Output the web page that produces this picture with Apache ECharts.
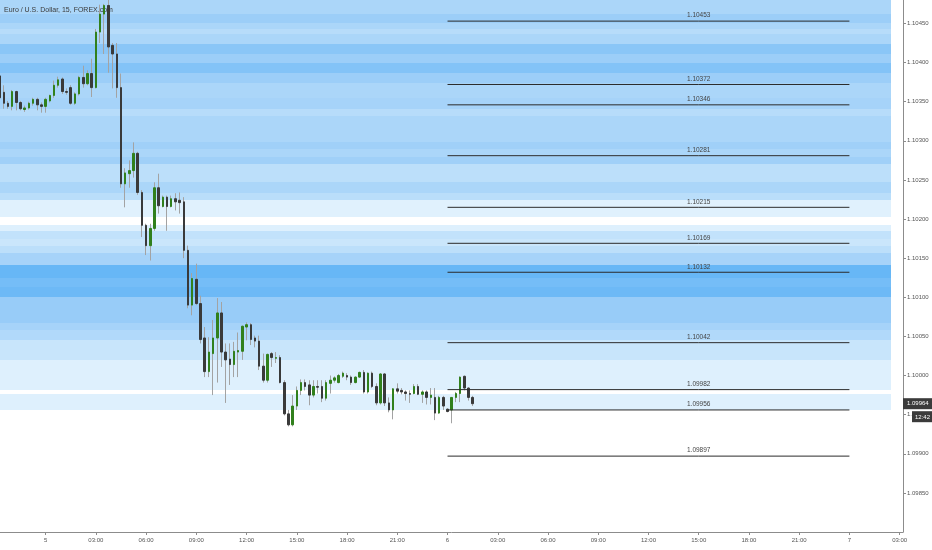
<!DOCTYPE html>
<html><head><meta charset="utf-8">
<script src="https://cdn.jsdelivr.net/npm/echarts@6/dist/echarts.min.js"></script>
<style>html,body{margin:0;padding:0;background:#fff}#c{width:932px;height:550px}</style>
</head><body><div id="c"></div>
<script>
const chartTitle = 'Euro / U.S. Dollar, 15, FOREX.com';
const firstSlot = -11;           // 15-minute slot index of the first candle (slot 0 = day 5 00:00)
const opens = [1.10383,1.10362,1.10348,1.10344,1.10363,1.10349,1.10340,1.10342,1.10348,1.10353,1.10346,
1.10344,1.10351,1.10358,1.10371,1.10379,1.10363,1.10368,1.10348,1.10360,1.10381,1.10373,1.10386,1.10368,1.10439,1.10462,1.10473,1.10422,1.10411,1.10368,1.10245,
1.10258,1.10262,1.10284,1.10234,1.10192,1.10166,1.10188,1.10240,1.10216,1.10228,1.10216,1.10226,1.10224,1.10222,1.10160,1.10090,1.10123,1.10092,1.10048,1.10005,
1.10028,1.10048,1.10080,1.10030,1.10021,1.10014,1.10030,1.10031,1.10062,1.10065,1.10048,1.10044,1.10012,1.09994,1.10028,1.10022,1.10023,1.09991,1.09951,1.09937,
1.09961,1.09981,1.09991,1.09988,1.09975,1.09986,1.09986,1.09971,1.09990,1.09994,1.09991,1.09999,1.10000,1.09998,1.09991,1.09998,1.10004,1.09979,1.10003,1.09986,
1.09965,1.10002,1.09965,1.09956,1.09983,1.09981,1.09979,1.09977,1.09977,1.09986,1.09976,1.09979,1.09972,1.09972,1.09952,1.09972,1.09957,1.09956,1.09972,1.09977,
1.09999,1.09984,1.09972];
const closes = [1.10355,1.10348,1.10344,1.10363,1.10349,1.10341,1.10342,1.10348,1.10353,1.10346,1.10344,
1.10353,1.10358,1.10371,1.10378,1.10363,1.10362,1.10348,1.10360,1.10381,1.10373,1.10386,1.10368,1.10439,1.10462,1.10473,1.10420,1.10411,1.10368,1.10245,1.10259,
1.10262,1.10284,1.10234,1.10192,1.10166,1.10188,1.10240,1.10217,1.10228,1.10216,1.10226,1.10222,1.10221,1.10160,1.10090,1.10124,1.10092,1.10046,1.10005,1.10030,
1.10048,1.10080,1.10030,1.10020,1.10014,1.10031,1.10032,1.10063,1.10065,1.10046,1.10044,1.10012,1.09994,1.10027,1.10023,1.10023,1.09991,1.09951,1.09937,1.09961,
1.09981,1.09991,1.09986,1.09975,1.09986,1.09985,1.09971,1.09991,1.09994,1.09997,1.10000,1.10003,1.09998,1.09991,1.09998,1.10004,1.09979,1.10003,1.09986,1.09965,
1.10002,1.09965,1.09956,1.09983,1.09980,1.09979,1.09977,1.09976,1.09986,1.09976,1.09979,1.09972,1.09975,1.09952,1.09972,1.09961,1.09954,1.09972,1.09977,1.09998,
1.09984,1.09972,1.09964];
const lows = [1.10351,1.10341,1.10341,1.10339,1.10339,1.10339,1.10337,1.10340,1.10345,1.10339,1.10336,
1.10336,1.10349,1.10355,1.10368,1.10360,1.10359,1.10346,1.10346,1.10358,1.10368,1.10371,1.10356,1.10367,1.10425,1.10411,1.10387,1.10367,1.10355,1.10240,1.10215,
1.10240,1.10253,1.10231,1.10177,1.10154,1.10147,1.10185,1.10207,1.10215,1.10185,1.10215,1.10211,1.10207,1.10150,1.10086,1.10077,1.10090,1.10041,1.09998,1.09998,
1.09975,1.09991,1.10011,1.09965,1.09988,1.09998,1.09998,1.10020,1.10045,1.10039,1.10036,1.10007,1.09991,1.09991,1.10011,1.10016,1.09990,1.09949,1.09935,1.09935,
1.09956,1.09975,1.09981,1.09962,1.09972,1.09977,1.09966,1.09968,1.09977,1.09991,1.09990,1.09997,1.09994,1.09988,1.09990,1.09997,1.09977,1.09977,1.09984,1.09962,
1.09963,1.09961,1.09953,1.09944,1.09977,1.09976,1.09968,1.09965,1.09976,1.09975,1.09965,1.09963,1.09963,1.09943,1.09951,1.09956,1.09953,1.09939,1.09966,1.09966,
1.09981,1.09968,1.09961];
const highs = [1.10387,1.10371,1.10351,1.10365,1.10364,1.10351,1.10345,1.10350,1.10355,1.10355,1.10349,
1.10355,1.10359,1.10377,1.10382,1.10381,1.10367,1.10371,1.10362,1.10383,1.10396,1.10390,1.10405,1.10443,1.10474,1.10475,1.10480,1.10425,1.10425,1.10386,1.10265,
1.10275,1.10298,1.10286,1.10237,1.10194,1.10194,1.10247,1.10258,1.10230,1.10230,1.10230,1.10233,1.10234,1.10228,1.10166,1.10131,1.10143,1.10102,1.10062,1.10049,
1.10071,1.10099,1.10094,1.10041,1.10041,1.10043,1.10055,1.10064,1.10068,1.10067,1.10051,1.10051,1.10028,1.10028,1.10030,1.10030,1.10026,1.09994,1.09956,1.09975,
1.09986,1.09995,1.09995,1.09994,1.09994,1.09994,1.09994,1.09994,1.10000,1.09999,1.10002,1.10005,1.10003,1.10000,1.09999,1.10005,1.10007,1.10004,1.10005,1.09990,
1.10003,1.10003,1.09972,1.09984,1.09990,1.09984,1.09981,1.09981,1.09989,1.09989,1.09981,1.09981,1.09984,1.09984,1.09974,1.09974,1.09958,1.09972,1.09979,1.09999,
1.10000,1.09985,1.09974];

const levels = [1.10453,1.10372,1.10346,1.10281,1.10215,1.10169,1.10132,1.10042,1.09982,1.09956,1.09897];
const levelStartSlot = 96, levelEndSlot = 192, levelLabelSlot = 156;

// price-band heat (profile) : edges from top to bottom, strength of each band (0 = empty)
const bandEdges = [1.10480,1.10462,1.10451,1.10443,1.10437,1.10424,1.10411,1.10400,1.10387,1.10374,1.10355,1.10341,1.10332,
1.10298,1.10290,1.10279,1.10271,1.10247,1.10233,1.10224,1.10202,1.10192,1.10185,1.10175,1.10166,1.10157,1.10141,1.10125,
1.10113,1.10100,1.10094,1.10067,1.10058,1.10045,1.10020,1.09981,1.09977,1.09956];
const bandStrength = [0.55,0.68,0.55,0.45,0.55,0.78,0.68,0.82,0.68,0.55,0.60,0.45,0.55,0.65,0.55,0.65,0.40,0.55,0.42,0.08,
0,0.10,0.35,0.28,0.40,0.60,0.98,0.90,0.95,0.70,0.70,0.60,0.50,0.30,0.10,0,0.10];
const bandEndSlot = 202;

const xTickLabels = ['5','03:00','06:00','09:00','12:00','15:00','18:00','21:00','6','03:00','06:00','09:00','12:00','15:00','18:00','21:00','7','03:00'];
const slotsPerTick = 12;
const yTicks = [1.0985,1.0990,1.0995,1.1000,1.1005,1.1010,1.1015,1.1020,1.1025,1.1030,1.1035,1.1040,1.1045];
const countdown = '12:42';

const xMin = -10.9, xMax = 204.8, yMin = 1.098, yMax = 1.1048;
const FONT = 'Liberation Sans, Arial, sans-serif';

const slots = opens.map((_, i) => firstSlot + i);
const wickData = opens.map((o, i) => [slots[i], o, closes[i], lows[i], highs[i]]);
const bodyData = opens.map((o, i) => [slots[i], o, closes[i], Math.min(o, closes[i]), Math.max(o, closes[i])]);
const bandData = [];
for (let i = 0; i < bandStrength.length; i++) {
  if (bandStrength[i] > 0) bandData.push([bandEdges[i + 1], bandEdges[i], bandStrength[i]]);
}
const bandColors = ['#e9f5fe', '#c4e3fb', '#9ecff8', '#64b5f6'];
const xTickValues = xTickLabels.map((_, i) => i * slotsPerTick);
const lastSlot = slots[slots.length - 1];
const lastClose = closes[closes.length - 1];

const chart = echarts.init(document.getElementById('c'));

const levelSeries = levels.map(v => ({
  type: 'line',
  data: [[levelStartSlot, v], {value: [levelLabelSlot, v], label: {show: true}}, [levelEndSlot, v]],
  symbol: 'circle', symbolSize: 0, showSymbol: true,
  lineStyle: {color: '#2b2b2b', width: 1},
  itemStyle: {color: '#2b2b2b'},
  label: {show: false, position: 'top', distance: 2, formatter: v.toFixed(5), fontSize: 6.5, color: '#444', fontFamily: FONT},
  silent: true, z: 5, animation: false, emphasis: {disabled: true}
}));

chart.setOption({
  animation: false,
  backgroundColor: '#ffffff',
  title: {text: chartTitle, left: 4, top: 7, padding: 0, z: 1,
    textStyle: {fontSize: 7, fontWeight: 'normal', color: '#3a3a3a', fontFamily: FONT}},
  grid: {left: 0, right: 29, top: 0, bottom: 18, containLabel: false},
  xAxis: {
    type: 'value', min: xMin, max: xMax,
    axisLine: {show: true, onZero: false, lineStyle: {color: '#8c8c8c', width: 1}},
    axisTick: {show: true, customValues: xTickValues, length: 3, lineStyle: {color: '#8c8c8c'}},
    axisLabel: {customValues: xTickValues, fontSize: 6, color: '#555', margin: 5, fontFamily: FONT,
      formatter: v => xTickLabels[Math.round(v / slotsPerTick)]},
    splitLine: {show: false}
  },
  yAxis: {
    type: 'value', position: 'right', min: yMin, max: yMax,
    axisLine: {show: true, onZero: false, lineStyle: {color: '#8c8c8c', width: 1}},
    axisTick: {show: true, customValues: yTicks, length: 3, lineStyle: {color: '#8c8c8c'}},
    axisLabel: {customValues: yTicks, fontSize: 6, color: '#555', margin: 4, fontFamily: FONT,
      formatter: v => v.toFixed(5)},
    splitLine: {show: false}
  },
  series: [
    {
      type: 'custom', z: 0, silent: true,
      data: bandData,
      renderItem: (params, api) => {
        const lo = api.value(0), hi = api.value(1), s = api.value(2);
        const p1 = api.coord([xMin, hi]);
        const p2 = api.coord([bandEndSlot, lo]);
        const y1 = Math.round(p1[1]), y2 = Math.round(p2[1]);
        return {type: 'rect', shape: {x: p1[0], y: y1, width: Math.round(p2[0]) - p1[0], height: y2 - y1},
          style: {fill: echarts.color.lerp(s, bandColors)}};
      }
    },
    {
      type: 'candlestick', name: 'wick', z: 3, silent: true,
      data: wickData, encode: {x: 0, y: [1, 2, 3, 4]},
      barWidth: 0.4,
      itemStyle: {color: '#a3a3a3', color0: '#a3a3a3', borderColor: '#a3a3a3', borderColor0: '#a3a3a3', borderWidth: 1},
      emphasis: {disabled: true}
    },
    {
      type: 'candlestick', name: 'body', z: 4, silent: true,
      data: bodyData, encode: {x: 0, y: [1, 2, 3, 4]},
      barWidth: 2,
      itemStyle: {color: '#31801c', color0: '#3a3a3a', borderColor: '#31801c', borderColor0: '#3a3a3a', borderWidth: 1},
      emphasis: {disabled: true}
    },
    ...levelSeries,
    {
      type: 'line', z: 8, silent: true, symbol: 'none', clip: false,
      data: [[lastSlot, lastClose]],
      markLine: {
        silent: true, symbol: ['none', 'none'], animation: false, clip: false, precision: 5,
        lineStyle: {color: 'rgba(0,0,0,0)', width: 0},
        data: [
          {yAxis: lastClose, label: {show: true, position: 'end', distance: 0, formatter: lastClose.toFixed(5),
            backgroundColor: '#3b3b3b', color: '#fff', padding: [3, 4, 2, 4], fontSize: 6, fontFamily: FONT}},
          {yAxis: lastClose, label: {show: true, position: 'end', distance: 0, formatter: '{b|' + countdown + '}',
            padding: [26, 0, 0, 9], color: '#fff',
            rich: {b: {backgroundColor: '#3b3b3b', color: '#fff', padding: [3, 3, 2, 3], fontSize: 6, fontFamily: FONT}}}}
        ]
      }
    }
  ]
});
</script>
</body></html>
